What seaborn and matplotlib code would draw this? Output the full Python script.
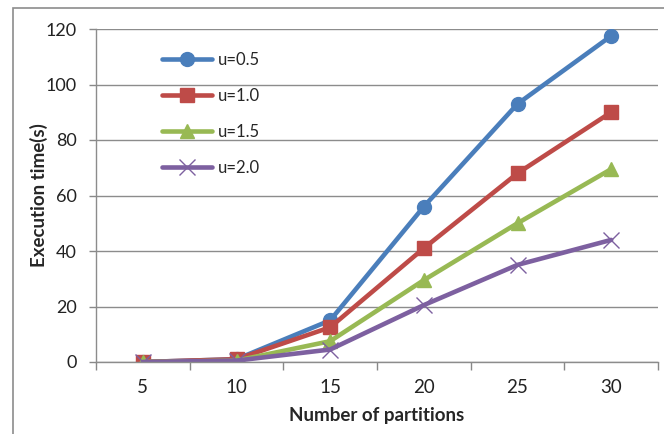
import matplotlib
matplotlib.use("Agg")
import matplotlib.pyplot as plt
from matplotlib.patches import Rectangle
import seaborn as sns
import pandas as pd

partitions = [5, 10, 15, 20, 25, 30]
series_names = ["u=0.5", "u=1.0", "u=1.5", "u=2.0"]
u05 = [0, 1, 15, 56, 93, 117.5]
u10 = [0, 1, 12.5, 41, 68, 90]
u15 = [0, 0.5, 7.5, 29.5, 50, 69.5]
u20 = [0, 0.5, 4.5, 20.5, 35, 44]
y_ticks = [0, 20, 40, 60, 80, 100, 120]

colors = ["#4A7EBB", "#BE4B48", "#98B954", "#7D60A0"]
markers = ["o", "s", "^", "x"]

sns.set_theme(style="white")
plt.rcParams["font.family"] = ["Lato", "DejaVu Sans"]

fig = plt.figure(figsize=(6.64, 4.34), dpi=100)
ax = fig.add_axes([96 / 664, 1 - 362 / 434, (658 - 96) / 664, (362 - 29) / 434])

for name, vals, c, m in zip(series_names, [u05, u10, u15, u20], colors, markers):
    df = pd.DataFrame({"partitions": partitions, "time": vals})
    sns.lineplot(data=df, x="partitions", y="time", color=c, marker=m,
                 linewidth=3.3, markersize=11 if m == "x" else 10,
                 markeredgewidth=1, markerfacecolor=c, markeredgecolor=c,
                 ax=ax, label=name)

ax.set_xlim(2.5, 32.5)
ax.set_ylim(0, 120)
ax.set_xticks(partitions)
ax.set_xticks([2.5 + 5 * k for k in range(7)], minor=True)
ax.set_yticks(y_ticks)
ax.tick_params(axis="x", which="major", length=0, labelsize=13.5, pad=12, colors="#222222")
ax.tick_params(axis="x", which="minor", length=6, width=1, color="#888888", direction="out")
ax.tick_params(axis="y", length=5, width=1, labelsize=13, pad=9, colors="#222222")
ax.tick_params(axis="y", which="major", color="#888888", left=True)
ax.tick_params(axis="x", which="minor", bottom=True)
ax.yaxis.grid(True, color="#8C8C8C", linewidth=1)
ax.xaxis.grid(False)
for side in ["top", "right"]:
    ax.spines[side].set_visible(False)
for side in ["left", "bottom"]:
    ax.spines[side].set_color("#8C8C8C")
    ax.spines[side].set_linewidth(1)

ax.set_xlabel("Number of partitions", fontsize=13.5, fontweight="bold", labelpad=8)
ax.set_ylabel("Execution time(s)", fontsize=13.5, fontweight="bold")
ax.yaxis.set_label_coords(-0.086, 0.5)

ax.legend(loc="upper left", bbox_to_anchor=(0.09, 0.975),
          frameon=False, fontsize=12, handlelength=3.0, handletextpad=0.4,
          labelspacing=1.2)

fig.patches.append(Rectangle((13 / 664, -0.1), 1.2, 1 - 8 / 434 + 0.1,
                             transform=fig.transFigure, fill=False,
                             edgecolor="#8C8C8C", linewidth=1.2))

fig.savefig("out.png", dpi=100)
